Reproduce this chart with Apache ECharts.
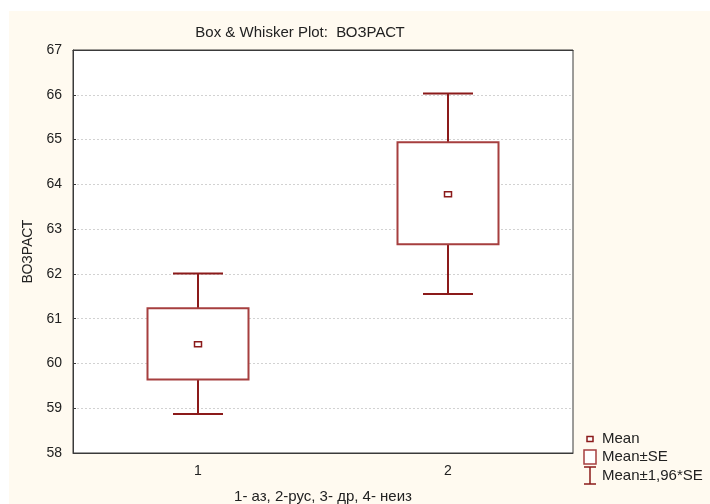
<!DOCTYPE html>
<html>
<head>
<meta charset="utf-8">
<script src="https://cdn.jsdelivr.net/npm/echarts@6/dist/echarts.min.js"></script>
<style>
  html, body { margin: 0; padding: 0; background: #ffffff; overflow: hidden; }
  #chart { width: 710px; height: 504px; }
</style>
</head>
<body>
<div id="chart"></div>
<script>
// Age by group: mean, mean ± SE and mean ± 1.96*SE
const categories = ['1', '2'];
const means  = [60.43, 63.78];
const seLow  = [59.64, 62.66];
const seHigh = [61.23, 64.94];
const ciLow  = [58.87, 61.55];
const ciHigh = [62.01, 66.03];
const yTicks = [58, 59, 60, 61, 62, 63, 64, 65, 66, 67];

const RED = '#8b1a1a';
const BOX_RED = '#a63f3f';
const FONT = '"Liberation Sans", Arial, sans-serif';

const chart = echarts.init(document.getElementById('chart'), null, { renderer: 'canvas' });

const whiskerData = categories.map((c, i) => [i, ciLow[i], ciHigh[i]]);
const boxData = categories.map((c, i) => [i, seLow[i], seHigh[i]]);
const meanData = categories.map((c, i) => [i, means[i]]);

function renderWhisker(params, api) {
  const i = api.value(0);
  const lo = api.coord([i, api.value(1)]);
  const hi = api.coord([i, api.value(2)]);
  const half = api.size([1, 0])[0] * 0.1;
  const style = { stroke: RED, lineWidth: 2, fill: null };
  return {
    type: 'group',
    children: [
      { type: 'line', shape: { x1: lo[0], y1: lo[1], x2: hi[0], y2: hi[1] }, style },
      { type: 'line', shape: { x1: hi[0] - half, y1: hi[1], x2: hi[0] + half, y2: hi[1] }, style },
      { type: 'line', shape: { x1: lo[0] - half, y1: lo[1], x2: lo[0] + half, y2: lo[1] }, style }
    ]
  };
}

function renderBox(params, api) {
  const i = api.value(0);
  const lo = api.coord([i, api.value(1)]);
  const hi = api.coord([i, api.value(2)]);
  const w = api.size([1, 0])[0] * 0.404;
  return {
    type: 'rect',
    shape: { x: lo[0] - w / 2, y: hi[1], width: w, height: lo[1] - hi[1] },
    style: { fill: '#ffffff', stroke: BOX_RED, lineWidth: 2 }
  };
}

function renderMean(params, api) {
  const p = api.coord([api.value(0), api.value(1)]);
  return {
    type: 'rect',
    shape: { x: p[0] - 3.5, y: p[1] - 2.5, width: 7, height: 5 },
    style: { fill: '#ffffff', stroke: RED, lineWidth: 1.5 }
  };
}

const legendText = { fontFamily: FONT, fontSize: 15, fill: '#222222', verticalAlign: 'middle' };

chart.setOption({
  animation: false,
  backgroundColor: '#ffffff',
  title: {
    text: 'Box & Whisker Plot:  ВОЗРАСТ',
    left: 295, top: 20,
    textAlign: 'center',
    textStyle: { fontFamily: FONT, fontSize: 15, fontWeight: 'normal', color: '#222222' }
  },
  graphic: [
    { type: 'rect', z: -10, shape: { x: 9, y: 11, width: 701, height: 493 }, style: { fill: '#fffaf0' } },
    // legend
    { type: 'rect', shape: { x: 587, y: 436.5, width: 6, height: 5 }, style: { fill: '#ffffff', stroke: RED, lineWidth: 1.5 } },
    { type: 'text', style: Object.assign({ x: 602, y: 439, text: 'Mean' }, legendText) },
    { type: 'rect', shape: { x: 584, y: 450, width: 12, height: 14 }, style: { fill: '#ffffff', stroke: BOX_RED, lineWidth: 1.5 } },
    { type: 'text', style: Object.assign({ x: 602, y: 457, text: 'Mean±SE' }, legendText) },
    { type: 'line', shape: { x1: 590, y1: 467, x2: 590, y2: 484 }, style: { stroke: RED, lineWidth: 1.5 } },
    { type: 'line', shape: { x1: 584, y1: 467, x2: 596, y2: 467 }, style: { stroke: RED, lineWidth: 1.5 } },
    { type: 'line', shape: { x1: 584, y1: 484, x2: 596, y2: 484 }, style: { stroke: RED, lineWidth: 1.5 } },
    { type: 'text', style: Object.assign({ x: 602, y: 476, text: 'Mean±1,96*SE' }, legendText) }
  ],
  grid: {
    left: 73, right: 137, top: 50, bottom: 51,
    outerBoundsMode: 'none',
    containLabel: false,
    show: true, backgroundColor: '#ffffff', borderColor: '#3a3a3a', borderWidth: 1
  },
  xAxis: [
    {
      type: 'category',
      data: categories,
      boundaryGap: true,
      position: 'bottom',
      name: '1- аз, 2-рус, 3- др, 4- неиз',
      nameLocation: 'middle',
      nameGap: 36,
      nameTextStyle: { fontFamily: FONT, fontSize: 15, color: '#222222' },
      axisLine: { lineStyle: { color: '#3a3a3a', width: 1 } },
      axisTick: { inside: true, alignWithLabel: true, length: 4, lineStyle: { color: '#3a3a3a' } },
      axisLabel: { fontFamily: FONT, fontSize: 14, color: '#222222', margin: 11 },
      splitLine: { show: false }
    },
    {
      type: 'category',
      data: categories,
      boundaryGap: true,
      position: 'top',
      axisLine: { lineStyle: { color: '#3a3a3a', width: 1 } },
      axisTick: { inside: true, alignWithLabel: true, length: 4, lineStyle: { color: '#3a3a3a' } },
      axisLabel: { show: false },
      splitLine: { show: false }
    }
  ],
  yAxis: {
    type: 'value',
    min: yTicks[0],
    max: yTicks[yTicks.length - 1],
    interval: 1,
    name: 'ВОЗРАСТ',
    nameLocation: 'middle',
    nameGap: 38,
    nameTextStyle: { fontFamily: FONT, fontSize: 14, color: '#222222' },
    axisLine: { show: true, lineStyle: { color: '#3a3a3a', width: 1 } },
    axisTick: { show: true, inside: true, length: 3, lineStyle: { color: '#3a3a3a' } },
    axisLabel: { fontFamily: FONT, fontSize: 14, color: '#222222', margin: 11 },
    splitLine: { show: true, lineStyle: { color: '#d2d2d2', type: [2, 2], width: 1 } }
  },
  series: [
    { name: 'Mean±1,96*SE', type: 'custom', renderItem: renderWhisker, data: whiskerData, z: 2,
      encode: { x: 0, y: [1, 2] } },
    { name: 'Mean±SE', type: 'custom', renderItem: renderBox, data: boxData, z: 3,
      encode: { x: 0, y: [1, 2] } },
    { name: 'Mean', type: 'custom', renderItem: renderMean, data: meanData, z: 4,
      encode: { x: 0, y: 1 } }
  ]
});
</script>
</body>
</html>
